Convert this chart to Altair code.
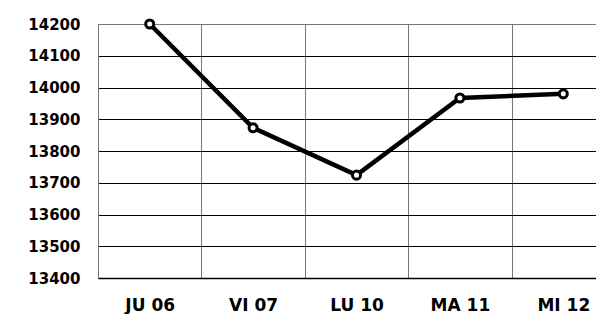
import altair as alt
import pandas as pd

days = ["JU 06", "VI 07", "LU 10", "MA 11", "MI 12"]
values = [14200, 13873, 13724, 13967, 13980]
y_ticks = [13400, 13500, 13600, 13700, 13800, 13900, 14000, 14100, 14200]

df = pd.DataFrame({"day": days, "value": values})

x = alt.X(
    "day:N",
    sort=days,
    scale=alt.Scale(paddingInner=0, paddingOuter=0, range=[0, 517]),
    axis=alt.Axis(
        title=None,
        labelAngle=0,
        labelFont="DejaVu Sans",
        labelFontWeight="bold",
        labelFontSize=17,
        labelColor="black",
        labelPadding=19,
        ticks=False,
        tickSize=0,
        tickBand="extent",
        domain=True,
        domainColor="black",
        domainWidth=1.5,
        grid=True,
        gridColor="#777777",
        gridWidth=1,
    ),
)
y = alt.Y(
    "value:Q",
    scale=alt.Scale(domain=[13400, 14200], nice=False, zero=False),
    axis=alt.Axis(
        title=None,
        values=y_ticks,
        format="d",
        labelFont="DejaVu Sans",
        labelFontWeight="bold",
        labelFontSize=15,
        labelColor="black",
        labelPadding=18,
        ticks=False,
        tickSize=0,
        domain=True,
        domainColor="#777777",
        grid=True,
        gridColor=alt.condition(alt.datum.value == 14200, alt.value("#777777"), alt.value("black")),
        gridWidth=1,
    ),
)

line = alt.Chart(df).mark_line(color="black", strokeWidth=4.5).encode(x=x, y=y)
pts = alt.Chart(df).mark_point(
    shape="circle", size=65, filled=True, fill="white", stroke="black", strokeWidth=3, opacity=1
).encode(x=x, y=y)

chart = (
    alt.layer(line, pts)
    .properties(
        width=498,
        height=254,
        autosize=alt.AutoSizeParams(type="none"),
        padding={"left": 90, "top": 16, "right": 0, "bottom": 36},
        background="white",
    )
    .configure_view(stroke=None)
)

chart.save("out.html", embed_options={"renderer": "svg", "actions": False})
